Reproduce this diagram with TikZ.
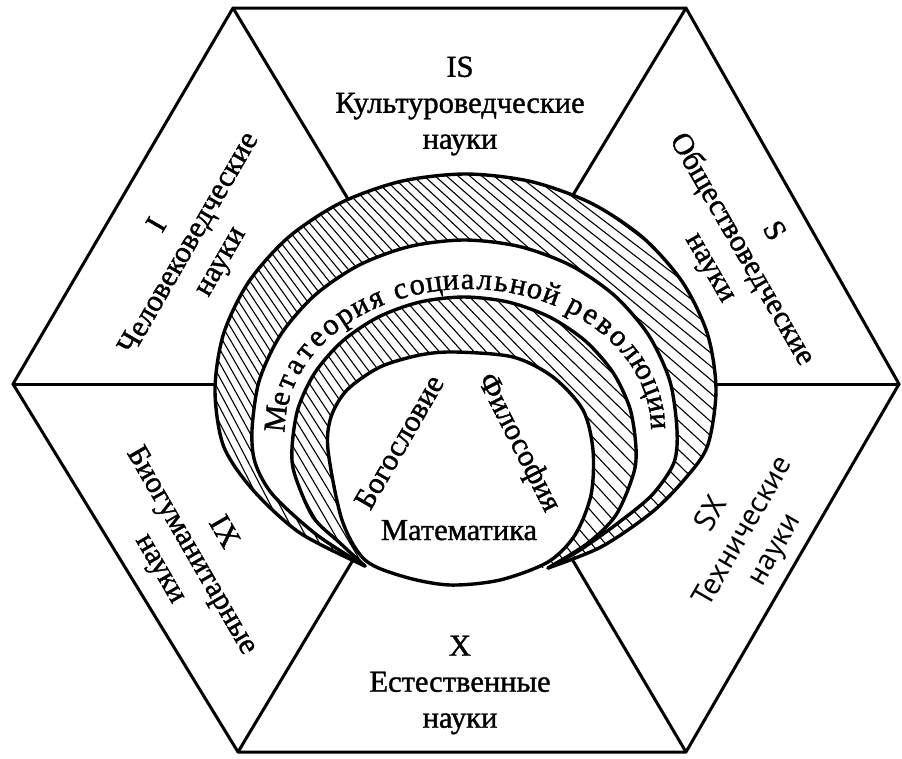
\documentclass[tikz,border=0pt]{standalone}
\usepackage{fontspec}
\setmainfont{Liberation Serif}[FakeBold=1.2]
\newfontfamily\sxfont{PT Sans}
\newcommand\lblfont{\fontsize{30.5}{36}\selectfont}
\begin{document}
\begin{tikzpicture}[x=1pt,y=-1pt,
  edge/.style={line width=3pt,line join=round,line cap=round},
  ringline/.style={line width=3.4pt,line cap=round},
  hatchline/.style={line width=1.1pt},
  lbl/.style={font=\lblfont,align=center,inner sep=0pt},
  arcchar/.style={font=\lblfont,inner sep=0pt,anchor=base}]
\useasboundingbox (0,0) rectangle (902,758);
\fill[white] (0,0) rectangle (902,758);
% hexagon vertices
\coordinate (vL) at (13,384);
\coordinate (vTL) at (233,8);
\coordinate (vTR) at (686,8);
\coordinate (vR) at (899,384);
\coordinate (vBR) at (686,752);
\coordinate (vBL) at (238,752);
% spoke ends on the outer ring
\coordinate (eL) at (215,384);
\coordinate (eTL) at (348,199);
\coordinate (eTR) at (573,195);
\coordinate (eR) at (716,384);
\coordinate (eBR) at (572,559);
\coordinate (eBL) at (353,560);
% outer hatched ring
\begin{scope}
\clip plot[smooth] coordinates {(365,566) (300,533) (253,490) (223.5,446) (215,390) (223.5,334) (248.6,282) (288.4,237.3) (340.3,203) (400.6,181.4) (465.5,174) (530.4,181.4) (590.8,203) (642.6,237.3) (682.4,282) (707.5,334) (716,390) (707.5,446) (684,480) (651,513) (601,547) (548,568)} -- cycle;
\foreach \s in {-290,-281,...,370}{
  \pgfmathsetmacro\th{50-0.055*\s}
  \draw[hatchline] (460+0.7071*\s,400-0.7071*\s) ++(\th:-700) -- ++(\th:1400);
}
\end{scope}
\fill[white] plot[smooth] coordinates {(365,566) (317,535) (273,495) (255.2,463) (252,430) (259.2,380.8) (280.5,335) (314.3,295.7) (358.3,265.5) (409.5,246.5) (464.5,240) (519.5,246.5) (570.8,265.5) (614.7,295.7) (648.5,335) (669.8,380.8) (677,430) (673.8,463) (652,495) (618,523) (580,550) (548,568)} -- cycle;
% inner hatched ring
\begin{scope}
\clip plot[smooth] coordinates {(365,566) (340,543) (313,517) (294.6,474.2) (292,448) (297.9,408.9) (315,372.5) (342.4,341.2) (378,317.2) (419.5,302.1) (464,297) (508.5,302.1) (550,317.2) (585.6,341.2) (613,372.5) (630.1,408.9) (636,448) (633.4,474.2) (616,515) (588,543) (548,568)} -- cycle;
\foreach \s in {-290,-281,...,370}{
  \pgfmathsetmacro\th{50-0.055*\s}
  \draw[hatchline] (460+0.7071*\s,400-0.7071*\s) ++(\th:-700) -- ++(\th:1400);
}
\end{scope}
\fill[white] plot[smooth cycle] coordinates {(328,450) (331,417) (347,390) (380,367) (420,355) (455,352) (513,357) (553,377) (583,410) (593,450) (591,495) (575,535) (548,562) (500,580) (450,585) (405,577) (365,560) (342,520)};
% ring outlines
\draw[ringline] plot[smooth] coordinates {(365,566) (300,533) (253,490) (223.5,446) (215,390) (223.5,334) (248.6,282) (288.4,237.3) (340.3,203) (400.6,181.4) (465.5,174) (530.4,181.4) (590.8,203) (642.6,237.3) (682.4,282) (707.5,334) (716,390) (707.5,446) (684,480) (651,513) (601,547) (548,568)};
\draw[ringline] plot[smooth] coordinates {(365,566) (317,535) (273,495) (255.2,463) (252,430) (259.2,380.8) (280.5,335) (314.3,295.7) (358.3,265.5) (409.5,246.5) (464.5,240) (519.5,246.5) (570.8,265.5) (614.7,295.7) (648.5,335) (669.8,380.8) (677,430) (673.8,463) (652,495) (618,523) (580,550) (548,568)};
\draw[ringline] plot[smooth] coordinates {(365,566) (340,543) (313,517) (294.6,474.2) (292,448) (297.9,408.9) (315,372.5) (342.4,341.2) (378,317.2) (419.5,302.1) (464,297) (508.5,302.1) (550,317.2) (585.6,341.2) (613,372.5) (630.1,408.9) (636,448) (633.4,474.2) (616,515) (588,543) (548,568)};
\draw[ringline] plot[smooth cycle] coordinates {(328,450) (331,417) (347,390) (380,367) (420,355) (455,352) (513,357) (553,377) (583,410) (593,450) (591,495) (575,535) (548,562) (500,580) (450,585) (405,577) (365,560) (342,520)};
% hexagon and spokes
\draw[edge] (vL) -- (vTL) -- (vTR) -- (vR) -- (vBR) -- (vBL) -- cycle;
\draw[edge] (vL) -- (eL);
\draw[edge] (vTL) -- (eTL);
\draw[edge] (vTR) -- (eTR);
\draw[edge] (vR) -- (eR);
\draw[edge] (vBR) -- (eBR);
\draw[edge] (vBL) -- (eBL);
% sector labels
\node[lbl] (tIS) at (460,106) {IS\\Культуроведческие\\науки};
\node[lbl,rotate=60] (tI) at (190,244) {I\\Человековедческие\\науки};
\node[lbl,rotate=-60] (tS) at (741,250) {S\\Обществоведческие\\науки};
\node[lbl,rotate=-60] (tIX) at (191,551) {IX\\Биогуманитарные\\науки};
\node[lbl,font=\sxfont\lblfont,rotate=60] (tSX) at (744,532) {SX\\Технические\\науки};
\node[lbl] (tX) at (460,685) {X\\Естественные\\науки};
% centre labels
\node[lbl,anchor=base] (tM) at (459,540) {Математика};
\node[lbl,rotate=60] (tB) at (399,442) {Богословие};
\node[lbl,rotate=-63] (tF) at (518,443) {Философия};
% curved label, letter by letter along an elliptical baseline (arc-length spacing)
\foreach \ch/\c [count=\i] in {М/0.65,е/1.8,т/2.8,а/3.8,т/4.8,е/5.8,о/6.8,р/7.8,и/8.8,я/9.8,
  с/11.3,о/12.3,ц/13.3,и/14.3,а/15.3,л/16.3,ь/17.3,н/18.3,о/19.3,й/20.3,
  р/21.8,е/22.8,в/23.8,о/24.8,л/25.8,ю/26.975,ц/28.15,и/29.15,и/30.15}{
  \pgfmathsetmacro\uu{\c/30.65}
  \pgfmathsetmacro\tt{180-(180*\uu+3.72*sin(360*\uu))}
  \pgfmathsetmacro\rr{atan2(-141*cos(\tt),183*sin(\tt))}
  \node[arcchar,rotate=\rr] (arc\i) at ({468+183*cos(\tt)},{430-141*sin(\tt)}) {\ch};
}
\end{tikzpicture}
\end{document}
